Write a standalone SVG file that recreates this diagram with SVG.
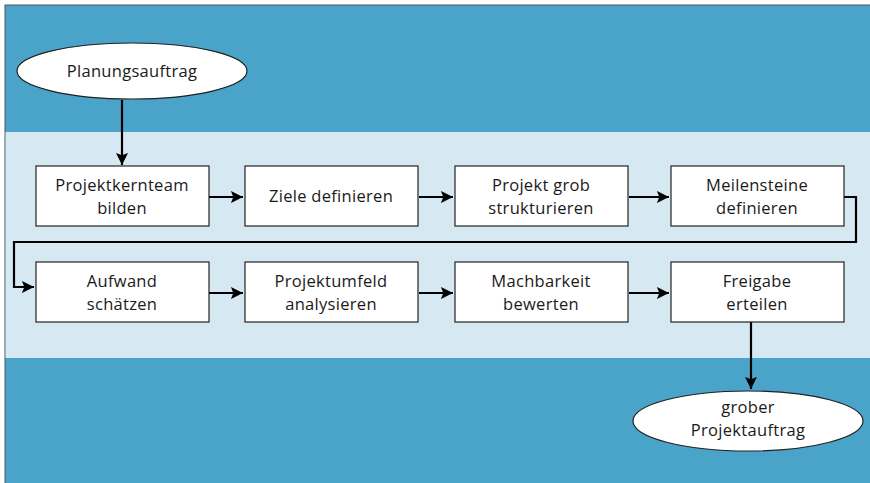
<svg xmlns="http://www.w3.org/2000/svg" width="870" height="483" viewBox="0 0 870 483">
<defs>
<marker id="ah" viewBox="0 0 10 10" refX="10" refY="5" markerWidth="6" markerHeight="5.5" orient="auto" markerUnits="strokeWidth"><path d="M0,0 L10,5 L0,10 L2,5 z" fill="#000"/></marker>
<style>
.box{fill:#fff;stroke:#222;stroke-width:1.2}
.ell{fill:#fff;stroke:#222;stroke-width:1.2}
.t{font-family:"Open Sans","Noto Sans",sans-serif;font-size:16.5px;font-weight:500;fill:#1a1a1a;text-anchor:middle;letter-spacing:0.3px}
.c{fill:none;stroke:#000;stroke-width:2.2;marker-end:url(#ah)}
</style>
</defs>
<rect x="5" y="5" width="870" height="483" fill="#4AA3C8" stroke="#555" stroke-width="1"/>
<rect x="5.5" y="132" width="865" height="226" fill="#D6E8F1"/>
<g id="connectors">
<path class="c" d="M122,100 V165"/>
<path class="c" d="M209,197 H243"/>
<path class="c" d="M419,197 H453"/>
<path class="c" d="M629,197 H669"/>
<path class="c" d="M844,197 H856 V242 H14 V287 H34"/>
<path class="c" d="M209,293 H243"/>
<path class="c" d="M419,293 H453"/>
<path class="c" d="M629,293 H669"/>
<path class="c" d="M751,322 V389"/>
</g>
<g id="n0"><ellipse class="ell" cx="132" cy="71" rx="115" ry="28"/><text class="t" x="132" y="77">Planungsauftrag</text></g>
<g id="n1"><rect class="box" x="36" y="166" width="173" height="60"/><text class="t" x="122" y="191">Projektkernteam</text><text class="t" x="122" y="214">bilden</text></g>
<g id="n2"><rect class="box" x="245" y="166" width="173" height="60"/><text class="t" x="331" y="202">Ziele definieren</text></g>
<g id="n3"><rect class="box" x="455" y="166" width="173" height="60"/><text class="t" x="541" y="191">Projekt grob</text><text class="t" x="541" y="214">strukturieren</text></g>
<g id="n4"><rect class="box" x="671" y="166" width="173" height="60"/><text class="t" x="757" y="191">Meilensteine</text><text class="t" x="757" y="214">definieren</text></g>
<g id="n5"><rect class="box" x="36" y="262" width="173" height="60"/><text class="t" x="122" y="287">Aufwand</text><text class="t" x="122" y="310">schätzen</text></g>
<g id="n6"><rect class="box" x="245" y="262" width="173" height="60"/><text class="t" x="331" y="287">Projektumfeld</text><text class="t" x="331" y="310">analysieren</text></g>
<g id="n7"><rect class="box" x="455" y="262" width="173" height="60"/><text class="t" x="541" y="287">Machbarkeit</text><text class="t" x="541" y="310">bewerten</text></g>
<g id="n8"><rect class="box" x="671" y="262" width="173" height="60"/><text class="t" x="757" y="287">Freigabe</text><text class="t" x="757" y="310">erteilen</text></g>
<g id="n9"><ellipse class="ell" cx="748" cy="421" rx="115" ry="30"/><text class="t" x="748" y="413">grober</text><text class="t" x="748" y="436">Projektauftrag</text></g>
</svg>
